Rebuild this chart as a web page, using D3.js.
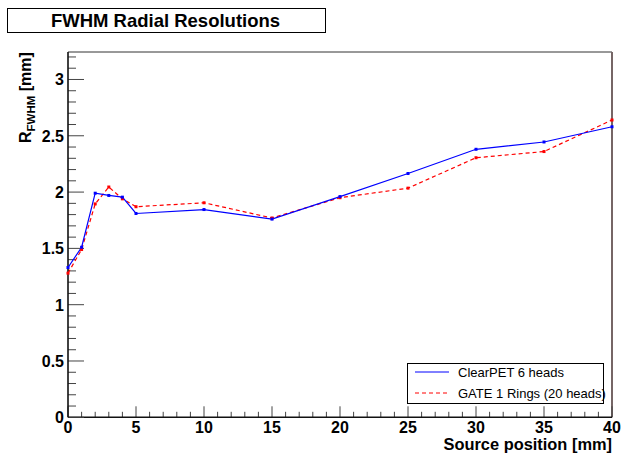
<!DOCTYPE html>
<html><head><meta charset="utf-8">
<script src="https://cdn.jsdelivr.net/npm/d3@7"></script>
<style>body{margin:0;background:#fff}svg{display:block}text{font-family:"Liberation Sans",Arial,sans-serif}</style>
</head><body>
<script>
const positions = [0,1,2,3,4,5,10,15,20,25,30,35,40];
const clearpet = [1.33,1.51,1.99,1.97,1.955,1.81,1.845,1.76,1.96,2.165,2.38,2.445,2.58];
const gate = [1.28,1.49,1.895,2.045,1.94,1.87,1.905,1.77,1.95,2.035,2.305,2.36,2.64];
const xTicks = [0,5,10,15,20,25,30,35,40];
const yTicks = [0,0.5,1,1.5,2,2.5,3];
const seriesNames = ["ClearPET 6 heads","GATE 1 Rings (20 heads)"];
const titleText = "FWHM Radial Resolutions";

const W=621,H=455;
const L=68,R=612,T=52,B=417.3;
const svg=d3.select("body").append("svg").attr("width",W).attr("height",H);
const x=d3.scaleLinear().domain([0,40]).range([L,R]);
const y=d3.scaleLinear().domain([0,3.244]).range([B,T]);

// frame
svg.append("line").attr("x1",L).attr("x2",R).attr("y1",T).attr("y2",T).attr("stroke","#333").attr("stroke-width",1);
svg.append("line").attr("x1",R).attr("x2",R).attr("y1",T).attr("y2",B).attr("stroke","#766666").attr("stroke-width",2);

// x axis
const xMinor=d3.range(0,40.01,1);
svg.selectAll(".xm").data(xMinor).enter().append("line")
  .attr("x1",d=>x(d)).attr("x2",d=>x(d)).attr("y1",B).attr("y2",d=>d%5===0?B-11:B-5.5)
  .attr("stroke","#444").attr("stroke-width",1);
svg.append("line").attr("x1",L).attr("x2",R).attr("y1",B).attr("y2",B).attr("stroke","#111").attr("stroke-width",1.6);
svg.selectAll(".xl").data(xTicks).enter().append("text")
  .attr("x",d=>x(d)).attr("y",433).attr("text-anchor","middle")
  .attr("font-size",16).attr("font-weight","bold").text(d=>d);
svg.append("text").attr("x",R).attr("y",450).attr("text-anchor","end")
  .attr("font-size",16.4).attr("font-weight","bold").text("Source position [mm]");

// y axis
const yMinor=d3.range(0,33).map(i=>i/10);
svg.selectAll(".ym").data(yMinor).enter().append("line")
  .attr("x1",L).attr("x2",(d,i)=>i%5===0?L+16:L+8)
  .attr("y1",d=>y(d)).attr("y2",d=>y(d))
  .attr("stroke","#444").attr("stroke-width",1);
svg.append("line").attr("x1",L).attr("x2",L).attr("y1",T).attr("y2",B).attr("stroke","#111").attr("stroke-width",1.6);
svg.selectAll(".yl").data(yTicks).enter().append("text")
  .attr("x",64).attr("y",d=>y(d)+6).attr("text-anchor","end")
  .attr("font-size",16).attr("font-weight","bold").text(d=>d);
const yl=svg.append("text").attr("transform","translate(31,143) rotate(-90)")
  .attr("font-size",16).attr("font-weight","bold");
yl.append("tspan").text("R");
yl.append("tspan").attr("font-size",11.5).attr("dy",4).text("FWHM");
yl.append("tspan").attr("dy",-4).text(" [mm]");

// lines
const line=d3.line().x((d,i)=>x(positions[i])).y(d=>y(d));
svg.append("path").datum(gate).attr("d",line).attr("fill","none").attr("stroke","#ff0000").attr("stroke-width",1.2).attr("stroke-dasharray","4,3");
svg.append("path").datum(clearpet).attr("d",line).attr("fill","none").attr("stroke","#0000ff").attr("stroke-width",1.2);
svg.selectAll(".mr").data(gate).enter().append("rect")
  .attr("x",(d,i)=>x(positions[i])-1.5).attr("y",d=>y(d)-1.5).attr("width",3).attr("height",3).attr("fill","#ff0000");
svg.selectAll(".mb").data(clearpet).enter().append("rect")
  .attr("x",(d,i)=>x(positions[i])-1.5).attr("y",d=>y(d)-1.5).attr("width",3).attr("height",3).attr("fill","#0000ff");

// legend
svg.append("rect").attr("x",407.5).attr("y",363.5).attr("width",196).attr("height",40).attr("fill","#fff").attr("stroke","#000").attr("stroke-width",1);
svg.append("line").attr("x1",415).attr("x2",449).attr("y1",372).attr("y2",372).attr("stroke","#0000ff").attr("stroke-width",1);
svg.append("line").attr("x1",415).attr("x2",449).attr("y1",393).attr("y2",393).attr("stroke","#ff0000").attr("stroke-width",1).attr("stroke-dasharray","4,3");
svg.selectAll(".lg").data(seriesNames).enter().append("text")
  .attr("x",458).attr("y",(d,i)=>377+i*21).attr("font-size",13).text(d=>d);

// title
svg.append("rect").attr("x",7.5).attr("y",8.5).attr("width",318).attr("height",24).attr("fill","#fff").attr("stroke","#000").attr("stroke-width",1);
svg.append("text").attr("x",165.5).attr("y",27).attr("text-anchor","middle").attr("font-size",18.5).attr("font-weight","bold").text(titleText);
</script>
</body></html>
